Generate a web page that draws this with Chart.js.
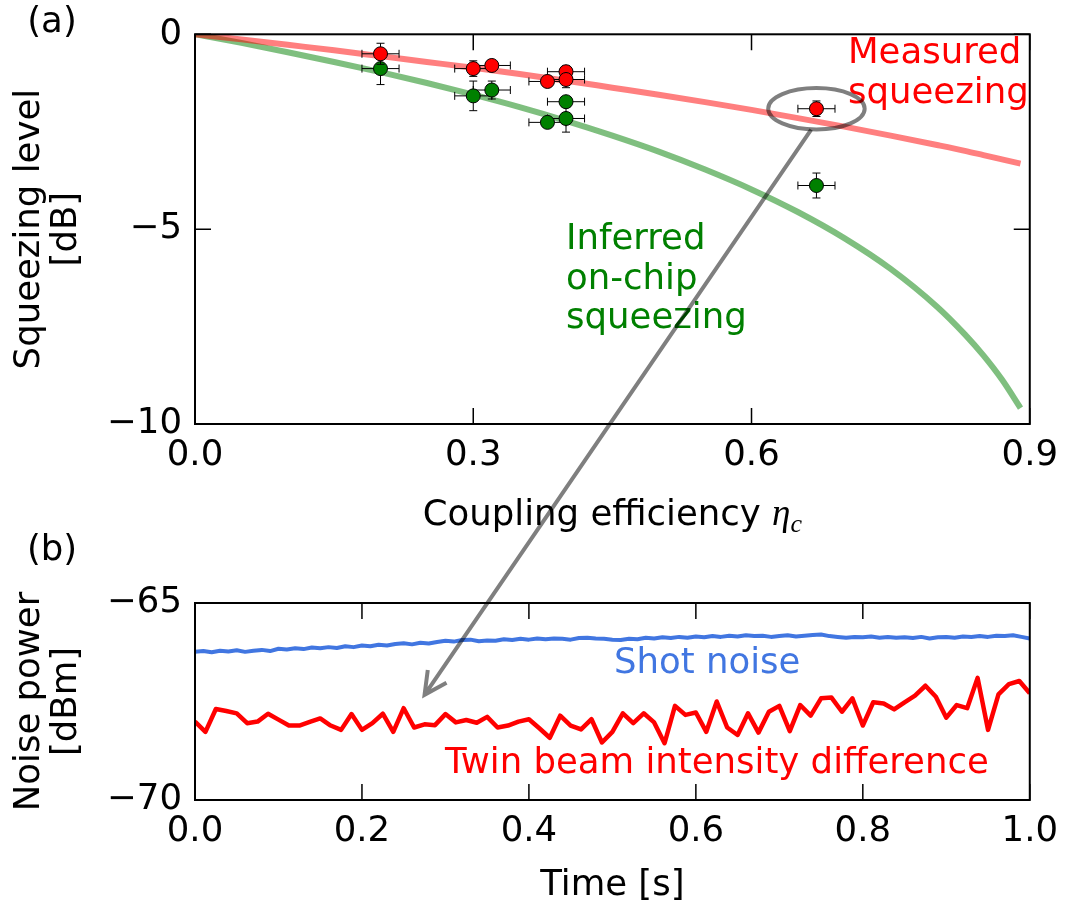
<!DOCTYPE html>
<html>
<head>
<meta charset="utf-8">
<script src="https://cdn.jsdelivr.net/npm/chart.js@4.4.1/dist/chart.umd.min.js"></script>
<style>
  body { margin: 0; background: #fff; }
  #wrap { position: relative; width: 1068px; height: 911px; }
  #wrap canvas { position: absolute; left: 0; top: 0; }
</style>
</head>
<body>
<div id="wrap">
  <canvas id="squeeze" width="1068" height="911"></canvas>
  <canvas id="noise" width="1068" height="911"></canvas>
</div>
<script>
// ---- panel (a): squeezing level vs coupling efficiency ----
const measEta = [0.20, 0.30, 0.32, 0.38, 0.40, 0.40, 0.67];
const measDb = [-0.50, -0.88, -0.80, -1.21, -0.96, -1.16, -1.91];
const measDbErr = [0.27, 0.20, 0.10, 0.10, 0.15, 0.21, 0.20];
const inferEta = [0.20, 0.30, 0.32, 0.38, 0.40, 0.40, 0.67];
const inferDb = [-0.88, -1.58, -1.43, -2.26, -1.73, -2.16, -3.88];
const inferDbErr = [0.41, 0.38, 0.23, 0.10, 0.10, 0.35, 0.32];
const etaErr = [0.02, 0.02, 0.02, 0.02, 0.02, 0.02, 0.02];

// model curves
const curveEta = [0, 0.05, 0.10, 0.15, 0.20, 0.25, 0.30, 0.35, 0.40, 0.45, 0.50,
                  0.55, 0.60, 0.65, 0.70, 0.75, 0.80, 0.83, 0.85, 0.87, 0.89];
const measuredCurve = [0, -0.13, -0.27, -0.41, -0.56, -0.71, -0.86, -1.02, -1.19, -1.37, -1.55,
                       -1.74, -1.94, -2.15, -2.37, -2.60, -2.84, -2.99, -3.10, -3.21, -3.32];
const inferredCurve = [0, -0.22, -0.46, -0.71, -0.97, -1.25, -1.55, -1.87, -2.22, -2.60, -3.01,
                       -3.47, -3.98, -4.56, -5.23, -6.02, -6.99, -7.70, -8.24, -8.86, -9.59];

const etaTicks = [0, 0.3, 0.6, 0.9];
const etaTickLabels = ['0.0', '0.3', '0.6', '0.9'];
const dbTicks = [-10, -5, 0];
const dbTickLabels = ['\u221210', '\u22125', '0'];

// ---- panel (b): noise power vs time ----
const timeStepShot = 0.01;   // s between shot-noise samples
const shotNoise = [
  -66.24, -66.22, -66.25, -66.21, -66.23, -66.20, -66.24, -66.21, -66.19, -66.22,
  -66.16, -66.18, -66.15, -66.17, -66.13, -66.15, -66.12, -66.14, -66.10, -66.12,
  -66.08, -66.10, -66.06, -66.08, -66.04, -66.02, -66.05, -66.01, -66.03, -65.99,
  -65.96, -65.98, -65.94, -65.93, -65.97, -65.95, -65.96, -65.92, -65.94, -65.91,
  -65.93, -65.90, -65.92, -65.90, -65.91, -65.93, -65.89, -65.88, -65.90, -65.91,
  -65.93, -65.94, -65.91, -65.92, -65.88, -65.90, -65.87, -65.89, -65.86, -65.88,
  -65.85, -65.87, -65.84, -65.86, -65.83, -65.85, -65.82, -65.84, -65.83, -65.86,
  -65.84, -65.82, -65.85, -65.83, -65.81, -65.80, -65.84, -65.86, -65.88, -65.86,
  -65.87, -65.85, -65.88, -65.86, -65.88, -65.87, -65.89, -65.86, -65.90, -65.87,
  -65.86, -65.88, -65.85, -65.86, -65.84, -65.86, -65.83, -65.84, -65.82, -65.86,
  -65.90
];
const timeStepTwin = 0.0125; // s between twin-beam samples
const twinBeam = [
  -68.01, -68.27, -67.69, -67.74, -67.80, -68.05, -68.01, -67.81, -67.96, -68.11,
  -68.11, -68.02, -67.93, -68.11, -68.22, -67.82, -68.22, -68.05, -67.81, -68.27,
  -67.67, -68.16, -68.08, -68.10, -67.82, -68.03, -67.97, -68.04, -67.89, -68.16,
  -68.11, -68.01, -67.95, -68.18, -68.42, -67.86, -68.11, -68.21, -67.95, -68.54,
  -68.27, -67.80, -68.05, -67.80, -68.03, -68.56, -67.61, -67.84, -67.78, -68.27,
  -67.50, -68.16, -68.35, -67.80, -68.29, -67.76, -67.61, -68.25, -67.59, -67.86,
  -67.42, -67.40, -67.76, -67.42, -68.11, -67.52, -67.55, -67.70, -67.52, -67.35,
  -67.10, -67.38, -67.91, -67.59, -67.67, -66.90, -68.22, -67.32, -67.06, -66.98,
  -67.29
];

const timeTicks = [0, 0.2, 0.4, 0.6, 0.8, 1.0];
const timeTickLabels = ['0.0', '0.2', '0.4', '0.6', '0.8', '1.0'];
const noiseTicks = [-70, -65];
const noiseTickLabels = ['\u221270', '\u221265'];

const BLUE = 'rgb(65,118,225)';
const FONT = '"DejaVu Sans", sans-serif';
const FS = 35.5;

Chart.defaults.font.family = FONT;
Chart.defaults.font.size = FS;
Chart.defaults.color = '#000';
Chart.defaults.animation = false;

function xy(xs, ys) {
  return ys.map((y, i) => ({ x: xs[i], y: y }));
}

function axis(min, max, values, labels, pad, fit) {
  return {
    type: 'linear',
    min: min,
    max: max,
    afterBuildTicks: s => { s.ticks = values.map(v => ({ value: v })); },
    afterFit: fit,
    grid: { display: false, drawTicks: false },
    border: { display: false },
    ticks: {
      callback: (v, i) => labels[i],
      padding: pad,
      maxRotation: 0,
      autoSkip: false
    }
  };
}

// black box with inward ticks on all four sides (classic matplotlib look)
const frame = {
  id: 'frame',
  afterDatasetsDraw(chart) {
    const { ctx, chartArea: a, scales } = chart;
    const L = 16;
    ctx.save();
    ctx.strokeStyle = '#000';
    ctx.lineWidth = 2;
    ctx.strokeRect(a.left, a.top, a.right - a.left, a.bottom - a.top);
    ctx.lineWidth = 1.5;
    ctx.beginPath();
    scales.x.ticks.forEach(t => {
      const p = scales.x.getPixelForValue(t.value);
      ctx.moveTo(p, a.bottom); ctx.lineTo(p, a.bottom - L);
      ctx.moveTo(p, a.top); ctx.lineTo(p, a.top + L);
    });
    scales.y.ticks.forEach(t => {
      const p = scales.y.getPixelForValue(t.value);
      ctx.moveTo(a.left, p); ctx.lineTo(a.left + L, p);
      ctx.moveTo(a.right, p); ctx.lineTo(a.right - L, p);
    });
    ctx.stroke();
    ctx.restore();
  }
};

// error bars, drawn just before the markers of their dataset
const errorBars = {
  id: 'errorBars',
  beforeDatasetDraw(chart, args) {
    const ds = chart.data.datasets[args.index];
    if (!ds.yErr) return;
    const { ctx, scales: { x, y } } = chart;
    const cap = 4;
    ctx.save();
    ctx.strokeStyle = '#000';
    ctx.lineWidth = 1;
    ctx.beginPath();
    ds.data.forEach((p, i) => {
      const px = x.getPixelForValue(p.x);
      const py = y.getPixelForValue(p.y);
      const x0 = x.getPixelForValue(p.x - ds.xErr[i]);
      const x1 = x.getPixelForValue(p.x + ds.xErr[i]);
      const y0 = y.getPixelForValue(p.y - ds.yErr[i]);
      const y1 = y.getPixelForValue(p.y + ds.yErr[i]);
      ctx.moveTo(x0, py); ctx.lineTo(x1, py);
      ctx.moveTo(px, y0); ctx.lineTo(px, y1);
      ctx.moveTo(x0, py - cap); ctx.lineTo(x0, py + cap);
      ctx.moveTo(x1, py - cap); ctx.lineTo(x1, py + cap);
      ctx.moveTo(px - cap, y0); ctx.lineTo(px + cap, y0);
      ctx.moveTo(px - cap, y1); ctx.lineTo(px + cap, y1);
    });
    ctx.stroke();
    ctx.restore();
  }
};

function textLines(ctx, lines, x, y, step, color) {
  ctx.fillStyle = color;
  lines.forEach((s, i) => ctx.fillText(s, x, y + i * step));
}

const squeezeNotes = {
  id: 'squeezeNotes',
  afterDraw(chart) {
    const { ctx, chartArea: a, scales: { x, y } } = chart;
    ctx.save();
    ctx.font = FS + 'px ' + FONT;
    ctx.textBaseline = 'alphabetic';
    ctx.textAlign = 'center';
    ctx.fillStyle = '#000';
    ctx.fillText('(a)', 52, 32);

    ctx.textAlign = 'left';
    textLines(ctx, ['Measured', 'squeezing'], x.getPixelForValue(0.704), y.getPixelForValue(-0.73), 40, '#ff0000');
    textLines(ctx, ['Inferred', 'on-chip', 'squeezing'], x.getPixelForValue(0.400), y.getPixelForValue(-5.52), 39.5, '#008000');

    // x title with math symbol eta_c
    const base = a.bottom + 101;
    const main = 'Coupling efficiency ';
    ctx.font = FS + 'px ' + FONT;
    const w1 = ctx.measureText(main).width;
    ctx.font = 'italic 37px "Liberation Serif"';
    const w2 = ctx.measureText('\u03b7').width;
    ctx.font = 'italic 26px "Liberation Serif"';
    const w3 = ctx.measureText('c').width;
    let x0 = (a.left + a.right) / 2 - (w1 + w2 + w3) / 2;
    ctx.fillStyle = '#000';
    ctx.font = FS + 'px ' + FONT;
    ctx.fillText(main, x0, base);
    ctx.font = 'italic 37px "Liberation Serif"';
    ctx.fillText('\u03b7', x0 + w1, base);
    ctx.font = 'italic 26px "Liberation Serif"';
    ctx.fillText('c', x0 + w1 + w2, base + 7);
    ctx.restore();
  }
};

const topChart = new Chart(document.getElementById('squeeze'), {
  type: 'scatter',
  data: {
    datasets: [
      {
        data: xy(measEta, measDb), xErr: etaErr, yErr: measDbErr,
        backgroundColor: '#ff0000', borderColor: '#000', borderWidth: 1,
        pointRadius: 7, showLine: false
      },
      {
        data: xy(inferEta, inferDb), xErr: etaErr, yErr: inferDbErr,
        backgroundColor: '#008000', borderColor: '#000', borderWidth: 1,
        pointRadius: 7, showLine: false
      },
      {
        data: xy(curveEta, measuredCurve), showLine: true, pointRadius: 0,
        borderColor: 'rgba(255,0,0,0.5)', borderWidth: 6, cubicInterpolationMode: 'monotone'
      },
      {
        data: xy(curveEta, inferredCurve), showLine: true, pointRadius: 0,
        borderColor: 'rgba(0,128,0,0.5)', borderWidth: 6, cubicInterpolationMode: 'monotone'
      }
    ]
  },
  options: {
    responsive: false,
    events: [],
    layout: { padding: { left: 0, top: 27, right: 38, bottom: 366 } },
    plugins: { legend: { display: false }, tooltip: { enabled: false } },
    scales: {
      x: axis(0, 0.9, etaTicks, etaTickLabels, 10, s => { s.height = 121; }),
      y: Object.assign(axis(-10, 0, dbTicks, dbTickLabels, 13, s => { s.width = 195; }), {
        title: {
          display: true,
          text: ['Squeezing level', '[dB]'],
          font: { size: FS, lineHeight: 1.05 },
          padding: { top: 11, bottom: 0 }
        }
      })
    }
  },
  plugins: [errorBars, frame, squeezeNotes]
});

const noiseNotes = {
  id: 'noiseNotes',
  afterDraw(chart) {
    const { ctx, scales: { x, y } } = chart;
    ctx.save();
    ctx.font = FS + 'px ' + FONT;
    ctx.textBaseline = 'alphabetic';
    ctx.textAlign = 'center';
    ctx.fillStyle = '#000';
    ctx.fillText('(b)', 52, 560);
    ctx.textAlign = 'left';
    textLines(ctx, ['Shot noise'], x.getPixelForValue(0.502), y.getPixelForValue(-66.78), 0, BLUE);
    textLines(ctx, ['Twin beam intensity difference'], x.getPixelForValue(0.2994), y.getPixelForValue(-69.31), 0, '#ff0000');

    // ellipse around the highlighted point of panel (a) and the arrow down to panel (b)
    const tx = topChart.scales.x, ty = topChart.scales.y;
    const cx = tx.getPixelForValue(measEta[6]);
    const cy = ty.getPixelForValue(measDb[6]);
    const rx = tx.getPixelForValue(measEta[6] + 0.052) - cx;
    const ry = ty.getPixelForValue(measDb[6] - 0.53) - cy;
    ctx.strokeStyle = 'rgba(0,0,0,0.5)';
    ctx.lineWidth = 4;
    ctx.beginPath();
    ctx.ellipse(cx, cy, rx, ry, 0, 0, Math.PI * 2);
    ctx.stroke();

    const hx = x.getPixelForValue(0.275), hy = y.getPixelForValue(-67.33);
    const dx = hx - cx, dy = hy - cy;
    const t = 1 / Math.hypot(dx / rx, dy / ry);
    const sx = cx + dx * t + 8, sy = cy + dy * t + 1;
    const ang = Math.atan2(sy - hy, sx - hx);
    const bl = 25, spread = 27 * Math.PI / 180;
    ctx.beginPath();
    ctx.moveTo(sx, sy);
    ctx.lineTo(hx, hy);
    ctx.moveTo(hx + bl * Math.cos(ang - spread), hy + bl * Math.sin(ang - spread));
    ctx.lineTo(hx, hy);
    ctx.lineTo(hx + bl * Math.cos(ang + spread), hy + bl * Math.sin(ang + spread));
    ctx.lineJoin = 'miter';
    ctx.stroke();
    ctx.restore();
  }
};

new Chart(document.getElementById('noise'), {
  type: 'scatter',
  data: {
    datasets: [
      {
        data: shotNoise.map((v, i) => ({ x: i * timeStepShot, y: v })),
        showLine: true, pointRadius: 0, borderColor: BLUE, borderWidth: 4,
        borderJoinStyle: 'round'
      },
      {
        data: twinBeam.map((v, i) => ({ x: i * timeStepTwin, y: v })),
        showLine: true, pointRadius: 0, borderColor: '#ff0000', borderWidth: 4.5,
        borderJoinStyle: 'round'
      }
    ]
  },
  options: {
    responsive: false,
    events: [],
    layout: { padding: { left: 0, top: 603, right: 38, bottom: 0 } },
    plugins: { legend: { display: false }, tooltip: { enabled: false } },
    scales: {
      x: Object.assign(axis(0, 1, timeTicks, timeTickLabels, 10, s => { s.height = 111; }), {
        title: {
          display: true,
          text: 'Time [s]',
          font: { size: FS, lineHeight: 1.05 },
          padding: { top: 0, bottom: 7 }
        }
      }),
      y: Object.assign(axis(-70, -65, noiseTicks, noiseTickLabels, 13, s => { s.width = 195; }), {
        title: {
          display: true,
          text: ['Noise power', '[dBm]'],
          font: { size: FS, lineHeight: 1.05 },
          padding: { top: 11, bottom: 0 }
        }
      })
    }
  },
  plugins: [frame, noiseNotes]
});
</script>
</body>
</html>
